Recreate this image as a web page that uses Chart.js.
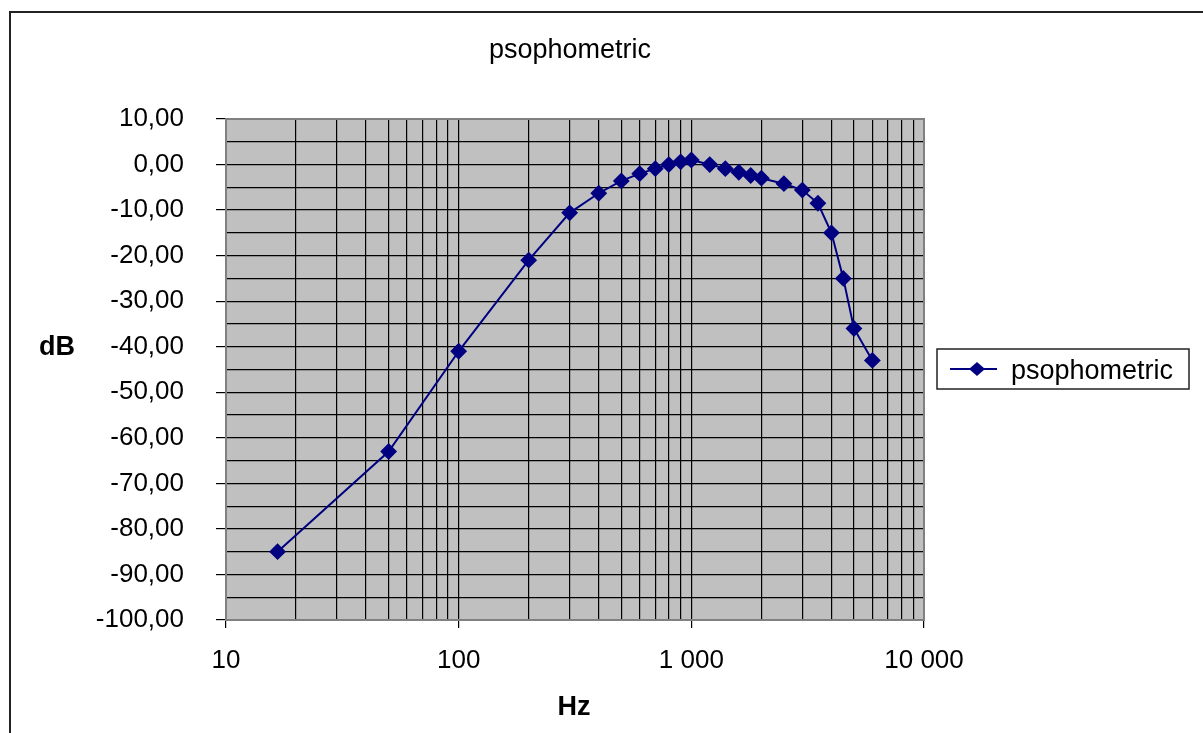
<!DOCTYPE html>
<html>
<head>
<meta charset="utf-8">
<script src="https://cdn.jsdelivr.net/npm/chart.js@4"></script>
<style>
  html, body { margin: 0; padding: 0; background: #fff; }
  #wrap { width: 1203px; height: 733px; position: relative; }
</style>
</head>
<body>
<div id="wrap"><canvas id="grafico" width="1203" height="733"></canvas></div>
<script>
// DADOS
const frequencias = [16.66, 50, 100, 200, 300, 400, 500, 600, 700, 800, 900, 1000,
  1200, 1400, 1600, 1800, 2000, 2500, 3000, 3500, 4000, 4500, 5000, 6000];
const niveis = [-85, -63, -41, -21, -10.6, -6.3, -3.6, -2, -0.9, 0, 0.6, 1,
  0, -0.9, -1.7, -2.4, -3, -4.2, -5.6, -8.5, -15, -25, -36, -43];
const serieNome = "psophometric";
const tituloTexto = "psophometric";
const eixoX = "Hz";
const eixoY = "dB";
const decadas = [10, 100, 1000, 10000];

const AZUL = "#000080";
const FONTE = "'Liberation Sans', Arial, sans-serif";

// fundo cinza, moldura, textos e legenda
const extras = {
  id: "extras",
  beforeDraw(chart) {
    const { ctx, chartArea: a } = chart;
    ctx.save();
    ctx.fillStyle = "#fff";
    ctx.fillRect(0, 0, chart.width, chart.height);
    ctx.fillStyle = "#C0C0C0";
    ctx.fillRect(a.left, a.top, a.right - a.left, a.bottom - a.top);
    ctx.restore();
  },
  afterDraw(chart) {
    const { ctx, chartArea: a } = chart;
    ctx.save();
    // borda da area
    ctx.strokeStyle = "#808080";
    ctx.lineWidth = 2;
    ctx.strokeRect(a.left, a.top, a.right - a.left, a.bottom - a.top);

    // moldura externa
    ctx.strokeStyle = "#222";
    ctx.lineWidth = 2;
    ctx.beginPath();
    ctx.moveTo(10, chart.height);
    ctx.lineTo(10, 12);
    ctx.lineTo(chart.width, 12);
    ctx.stroke();

    // titulo
    ctx.fillStyle = "#000";
    ctx.textAlign = "center";
    ctx.textBaseline = "alphabetic";
    ctx.font = "27px " + FONTE;
    ctx.fillText(tituloTexto, 570, 58);

    // titulos dos eixos
    ctx.font = "bold 27px " + FONTE;
    ctx.fillText(eixoY, 57, 355);
    ctx.fillText(eixoX, 574, 715);

    // legenda
    ctx.strokeStyle = "#222";
    ctx.lineWidth = 1.5;
    ctx.strokeRect(937, 349, 252, 40);
    ctx.strokeStyle = AZUL;
    ctx.lineWidth = 2;
    ctx.beginPath();
    ctx.moveTo(950, 369);
    ctx.lineTo(997, 369);
    ctx.stroke();
    ctx.fillStyle = AZUL;
    ctx.beginPath();
    ctx.moveTo(977, 362);
    ctx.lineTo(985, 369);
    ctx.lineTo(977, 376);
    ctx.lineTo(969, 369);
    ctx.closePath();
    ctx.fill();
    ctx.fillStyle = "#000";
    ctx.textAlign = "left";
    ctx.font = "27px " + FONTE;
    ctx.fillText(serieNome, 1011, 379);
    ctx.restore();
  }
};

function formatarY(v) {
  if (v % 10 !== 0) return "";
  return v.toFixed(2).replace(".", ",");
}

function formatarX(v) {
  if (!decadas.includes(v)) return "";
  return String(v).replace(/\B(?=(\d{3})+(?!\d))/g, " ");
}

const grafico = new Chart(document.getElementById("grafico"), {
  type: "line",
  data: {
    datasets: [{
      label: serieNome,
      data: frequencias.map((f, i) => ({ x: f, y: niveis[i] })),
      borderColor: AZUL,
      backgroundColor: AZUL,
      borderWidth: 2,
      pointStyle: "rectRot",
      pointRadius: 7,
      pointHoverRadius: 7,
      tension: 0
    }]
  },
  options: {
    responsive: false,
    animation: false,
    layout: { padding: { left: 0, top: 119, right: 279, bottom: 0 } },
    plugins: {
      legend: { display: false },
      title: { display: false },
      tooltip: { enabled: false }
    },
    scales: {
      x: {
        type: "logarithmic",
        min: 10,
        max: 10000,
        afterBuildTicks(scale) {
          const t = [];
          for (let d = 10; d < 10000; d *= 10) {
            for (let k = 1; k < 10; k++) t.push({ value: d * k });
          }
          t.push({ value: 10000 });
          scale.ticks = t;
        },
        afterFit(scale) { scale.height = 113; },
        border: { display: false },
        grid: {
          color: "#000",
          lineWidth: 1.2,
          tickLength: 8,
          tickColor: c => decadas.includes(c.tick.value) ? "#000" : "rgba(0,0,0,0)"
        },
        ticks: {
          autoSkip: false,
          maxRotation: 0,
          padding: 17,
          color: "#000",
          font: { family: FONTE, size: 26 },
          callback: v => formatarX(v)
        }
      },
      y: {
        min: -100,
        max: 10,
        afterFit(scale) { scale.width = 226; },
        border: { display: false },
        grid: {
          color: "#000",
          lineWidth: 1.2,
          tickLength: 10,
          tickColor: c => c.tick.value % 10 === 0 ? "#000" : "rgba(0,0,0,0)"
        },
        ticks: {
          stepSize: 5,
          autoSkip: false,
          padding: 32,
          color: "#000",
          font: { family: FONTE, size: 26 },
          callback: v => formatarY(v)
        }
      }
    }
  },
  plugins: [extras]
});
</script>
</body>
</html>
